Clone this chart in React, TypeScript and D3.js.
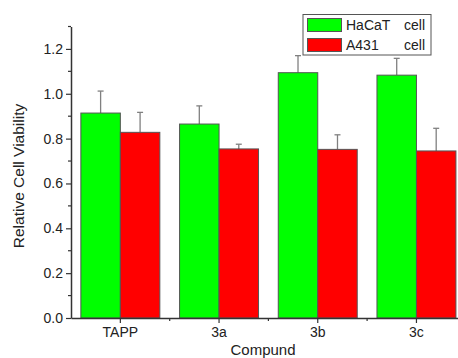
import React, { useEffect, useRef } from 'react';
import * as d3 from 'd3';

const compounds = ['TAPP', '3a', '3b', '3c'];
const seriesNames = ['HaCaT', 'A431'];
const seriesColors = ['#00ff00', '#ff0000'];
const hacatValues = [0.914, 0.865, 1.094, 1.083];
const hacatErrors = [0.098, 0.081, 0.076, 0.075];
const a431Values = [0.828, 0.754, 0.752, 0.745];
const a431Errors = [0.089, 0.021, 0.065, 0.101];
const yTicks = [0, 0.2, 0.4, 0.6, 0.8, 1.0, 1.2];
const yMinorTicks = [0.1, 0.3, 0.5, 0.7, 0.9, 1.1, 1.3];

const App: React.FC = () => {
  const svgRef = useRef<SVGSVGElement>(null);

  useEffect(() => {
    if (!svgRef.current) return;
    const svg = d3.select(svgRef.current);
    svg.selectAll('*').remove();

    const W = 458;
    const H = 358;
    const left = 71;
    const bottom = 318;
    const top = 26.5;
    const step = 98.7;
    const font = 'Arial, "Liberation Sans", sans-serif';

    svg.attr('width', W).attr('height', H);

    // X scale: one band per compound, axis continues past the right edge
    const x = d3.scaleBand<string>()
      .domain(compounds)
      .range([left, left + step * compounds.length])
      .paddingInner(0)
      .paddingOuter(0);

    const inner = d3.scaleBand<string>()
      .domain(seriesNames)
      .range([0, x.bandwidth()])
      .paddingOuter(0.25)
      .paddingInner(0);

    const y = d3.scaleLinear().domain([0, 1.3]).range([bottom, top]);

    const series = [
      { name: 'HaCaT', values: hacatValues, errors: hacatErrors, color: seriesColors[0] },
      { name: 'A431', values: a431Values, errors: a431Errors, color: seriesColors[1] },
    ];

    // Bars
    series.forEach(s => {
      const g = svg.append('g');
      compounds.forEach((c, i) => {
        const bx = (x(c) || 0) + (inner(s.name) || 0);
        const bw = inner.bandwidth();
        // error bar
        const cx = bx + bw / 2;
        g.append('line')
          .attr('x1', cx).attr('x2', cx)
          .attr('y1', y(s.values[i])).attr('y2', y(s.values[i] + s.errors[i]))
          .attr('stroke', '#808080').attr('stroke-width', 1.3);
        g.append('line')
          .attr('x1', cx - 3).attr('x2', cx + 3)
          .attr('y1', y(s.values[i] + s.errors[i])).attr('y2', y(s.values[i] + s.errors[i]))
          .attr('stroke', '#808080').attr('stroke-width', 1.3);
        g.append('rect')
          .attr('x', bx)
          .attr('y', y(s.values[i]))
          .attr('width', bw)
          .attr('height', y(0) - y(s.values[i]))
          .attr('fill', s.color)
          .attr('stroke', '#555')
          .attr('stroke-width', 1);
      });
    });

    // Y axis
    const yAxis = svg.append('g')
      .attr('transform', `translate(${left},0)`)
      .call(d3.axisLeft(y).tickValues(yTicks).tickSize(5).tickSizeOuter(0).tickPadding(3).tickFormat(d3.format('.1f')));
    yAxis.select('.domain').attr('stroke', '#333').attr('stroke-width', 1.5);
    yAxis.selectAll('.tick line').attr('stroke', '#333').attr('stroke-width', 1.2);
    yAxis.selectAll('.tick text')
      .attr('fill', '#222')
      .style('font-family', font)
      .style('font-size', '14px');
    svg.append('g')
      .selectAll('line')
      .data(yMinorTicks)
      .enter().append('line')
      .attr('x1', left - 3).attr('x2', left)
      .attr('y1', d => y(d)).attr('y2', d => y(d))
      .attr('stroke', '#333').attr('stroke-width', 1.2);

    // X axis
    const xAxis = svg.append('g')
      .attr('transform', `translate(0,${bottom})`)
      .call(d3.axisBottom(x).tickSize(5).tickSizeOuter(0).tickPadding(4));
    xAxis.select('.domain').attr('stroke', '#333').attr('stroke-width', 1.5);
    xAxis.selectAll('.tick line').attr('stroke', '#333').attr('stroke-width', 1.2);
    xAxis.selectAll('.tick text')
      .attr('fill', '#222')
      .style('font-family', font)
      .style('font-size', '14px');
    svg.append('g')
      .selectAll('line')
      .data(compounds.slice(1))
      .enter().append('line')
      .attr('x1', d => x(d) || 0).attr('x2', d => x(d) || 0)
      .attr('y1', bottom).attr('y2', bottom + 3)
      .attr('stroke', '#333').attr('stroke-width', 1.2);

    // Axis titles
    svg.append('text')
      .attr('transform', `translate(24,176) rotate(-90)`)
      .attr('text-anchor', 'middle')
      .style('font-family', font)
      .style('font-size', '15.5px')
      .attr('fill', '#222')
      .text('Relative Cell Viability');

    svg.append('text')
      .attr('x', 263)
      .attr('y', 355)
      .attr('text-anchor', 'middle')
      .style('font-family', font)
      .style('font-size', '15px')
      .attr('fill', '#222')
      .text('Compund');

    // Legend
    const legend = svg.append('g').attr('transform', 'translate(303,14.5)');
    legend.append('rect')
      .attr('width', 128).attr('height', 40.5)
      .attr('fill', '#fff').attr('stroke', '#555').attr('stroke-width', 1);
    series.forEach((s, i) => {
      const row = legend.append('g').attr('transform', `translate(0,${i * 20})`);
      row.append('rect')
        .attr('x', 4.5).attr('y', 4)
        .attr('width', 34).attr('height', 13)
        .attr('fill', s.color).attr('stroke', '#555').attr('stroke-width', 1);
      row.append('text')
        .attr('x', 43).attr('y', 15.5)
        .style('font-family', font).style('font-size', '14px')
        .attr('fill', '#222')
        .text(s.name);
      row.append('text')
        .attr('x', 122).attr('y', 15.5)
        .attr('text-anchor', 'end')
        .style('font-family', font).style('font-size', '14px')
        .attr('fill', '#222')
        .text('cell');
    });
  }, []);

  return <svg ref={svgRef} style={{ position: 'absolute', left: 0, top: 0, background: '#fff' }}></svg>;
};

export default App;
